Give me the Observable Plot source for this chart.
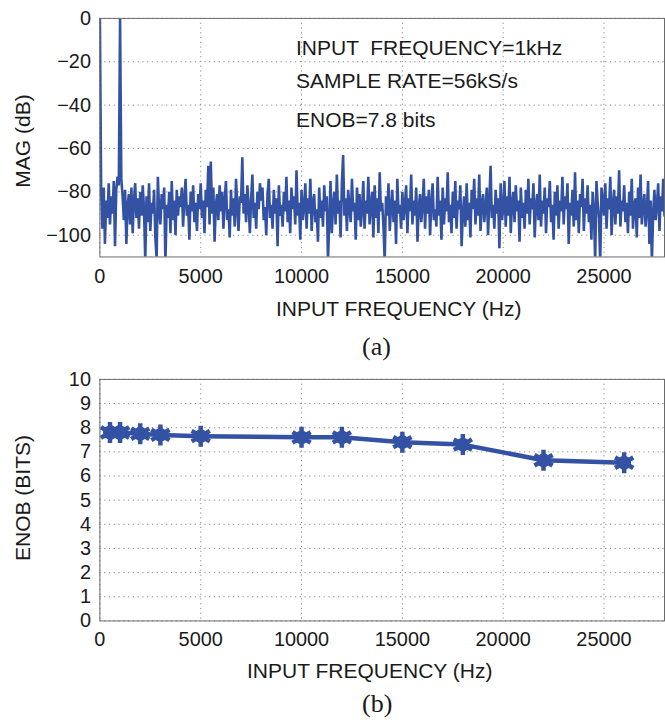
<!DOCTYPE html>
<html><head><meta charset="utf-8">
<script src="https://cdn.jsdelivr.net/npm/d3@7"></script>
<script src="https://cdn.jsdelivr.net/npm/@observablehq/plot@0.6"></script>
<style>
html,body{margin:0;padding:0;background:#fff;overflow:hidden;}
#wrap{position:relative;width:665px;height:725px;overflow:hidden;font-family:"Liberation Sans",Arial,sans-serif;color:#1a1a1a;}
#wrap svg{position:absolute;left:0;}
.lbl{position:absolute;font-size:21px;line-height:21px;white-space:pre;}
.rot{transform:translate(-50%,-50%) rotate(-90deg);}
.cap{position:absolute;font-family:"Liberation Serif","DejaVu Serif",serif;font-size:26px;line-height:26px;}
</style></head><body><div id="wrap"></div>
<script>
// FFT bin spacing of the spectrum (Hz)
const binHz = 62.5;
// Spectrum magnitude (dB), one value per bin from 0 Hz to 28 kHz
const magDb = [
0,-80,-97,-78,-104,-84,-92,-76,-95,-82,-90,-75,-105,-79,-73,-77,
0,-74,-82,-93,-79,-104,-86,-81,-95,-78,-99,-84,-76,-92,-83,-97,
-80,-91,-77,-88,-112,-82,-94,-76,-98,-85,-90,-79,-101,-111,-73,-89,
-95,-81,-88,-78,-113,-86,-92,-80,-99,-75,-93,-84,-100,-79,-91,-82,
-87,-78,-96,-83,-74,-91,-86,-102,-80,-89,-77,-94,-85,-98,-81,-88,
-76,-92,-84,-99,-79,-87,-68,-95,-66,-90,-78,-103,-86,-81,-93,-77,
-89,-80,-97,-84,-75,-93,-88,-101,-79,-91,-83,-96,-74,-87,-98,-82,
-85,-64,-90,-81,-94,-77,-86,-99,-83,-72,-92,-85,-97,-80,-88,-76,
-84,-78,-93,-87,-100,-81,-74,-92,-86,-97,-79,-90,-83,-105,-77,-91,
-86,-96,-80,-89,-73,-94,-84,-99,-78,-88,-82,-95,-70,-91,-85,-102,
-79,-93,-87,-76,-97,-83,-90,-74,-98,-85,-81,-94,-88,-103,-78,-92,
-84,-96,-77,-89,-82,-112,-93,-75,-99,-86,-80,-95,-72,-90,-84,-101,
-76,-63,-91,-83,-98,-79,-87,-94,-74,-89,-85,-102,-78,-93,-81,-96,
-88,-75,-97,-84,-90,-73,-95,-86,-80,-101,-77,-92,-83,-99,-71,-89,
-85,-96,-112,-82,-91,-76,-98,-87,-79,-94,-84,-104,-74,-90,-86,-97,
-80,-93,-86,-77,-99,-83,-89,-72,-95,-84,-91,-78,-103,-87,-81,-94,
-86,-74,-97,-82,-90,-79,-100,-85,-76,-93,-88,-96,-73,-91,-84,-102,
-78,-95,-83,-89,-71,-94,-86,-99,-80,-92,-75,-97,-84,-88,-77,-105,
-90,-82,-96,-76,-93,-85,-101,-79,-88,-74,-95,-83,-91,-72,-98,-86,
-81,-94,-87,-78,-100,-84,-68,-92,-86,-97,-79,-90,-83,-106,-76,-93,
-88,-75,-96,-82,-91,-73,-99,-85,-80,-94,-77,-89,-84,-103,-78,-92,
-85,-97,-79,-90,-74,-95,-83,-88,-76,-101,-86,-81,-93,-72,-96,-84,
-90,-78,-99,-83,-87,-75,-94,-86,-102,-80,-91,-77,-97,-84,-89,-73,
-95,-82,-88,-76,-104,-85,-91,-79,-96,-71,-93,-84,-99,-81,-87,-74,
-98,-83,-90,-77,-94,-86,-102,-80,-89,-112,-75,-85,-92,-113,-78,-84,
-91,-76,-97,-83,-88,-73,-100,-86,-79,-95,-82,-90,-70,-96,-84,-89,
-77,-94,-85,-99,-80,-91,-74,-97,-86,-83,-101,-78,-92,-72,-95,-87,
-81,-96,-88,-75,-104,-84,-112,-90,-79,-93,-86,-76,-98,-82,-89,-74,
-91
];
// ENOB vs input frequency
const enobFreq = [500, 1000, 2000, 3000, 5000, 10000, 12000, 15000, 18000, 22000, 26000];
const enobBits = [7.8, 7.8, 7.75, 7.7, 7.65, 7.6, 7.6, 7.4, 7.3, 6.65, 6.55];
// Ticks
const freqTicks = [0, 5000, 10000, 15000, 20000, 25000];
const magTicks = [0, -20, -40, -60, -80, -100];
const enobTicks = [0, 1, 2, 3, 4, 5, 6, 7, 8, 9, 10];
// Texts
const annotLines = ["INPUT  FREQUENCY=1kHz", "SAMPLE RATE=56kS/s", "ENOB=7.8 bits"];
const xLabel = "INPUT FREQUENCY (Hz)";
const yLabelTop = "MAG (dB)";
const yLabelBottom = "ENOB (BITS)";
const captions = ["(a)", "(b)"];

const blue = "#3452a4";
const gridStyle = {stroke: "#8a8a8a", strokeOpacity: 1, strokeWidth: 1, strokeDasharray: "1.2,3.6"};
const baseStyle = {fontFamily: "'Liberation Sans', Arial, sans-serif", fontSize: "20px", color: "#1a1a1a", background: "transparent", overflow: "visible"};

const spectrum = magDb.map((m, i) => ({f: i * binHz, m}));
const enob = enobFreq.map((f, i) => ({f, b: enobBits[i]}));

const wrap = document.getElementById("wrap");

const topPlot = Plot.plot({
  width: 669, height: 300,
  marginLeft: 100, marginRight: 1, marginTop: 18, marginBottom: 42,
  style: baseStyle,
  x: {domain: [0, 28000], ticks: freqTicks, tickSize: 0, tickPadding: 12, label: null, tickFormat: d3.format("d")},
  y: {domain: [-110, 0], ticks: magTicks, tickSize: 0, tickPadding: 9, label: null},
  marks: [
    Plot.gridX(freqTicks, gridStyle),
    Plot.gridY(magTicks, gridStyle),
    Plot.line(spectrum, {x: "f", y: "m", stroke: blue, strokeWidth: 2.6, strokeLinejoin: "miter", clip: true}),
    Plot.frame({stroke: "#6a6a6a", strokeWidth: 1})
  ]
});
topPlot.style.top = "0px";
wrap.appendChild(topPlot);

const botPlot = Plot.plot({
  width: 669, height: 300,
  marginLeft: 100, marginRight: 1, marginTop: 19, marginBottom: 38,
  style: baseStyle,
  x: {domain: [0, 28000], ticks: freqTicks, tickSize: 0, tickPadding: 11, label: null, tickFormat: d3.format("d")},
  y: {domain: [0, 10], ticks: enobTicks, tickSize: 0, tickPadding: 9, label: null},
  marks: [
    Plot.gridX(freqTicks, gridStyle),
    Plot.gridY(enobTicks, gridStyle),
    Plot.line(enob, {x: "f", y: "b", stroke: blue, strokeWidth: 4.5}),
    Plot.dot(enob, {x: "f", y: "b", fill: blue, r: 7}),
    Plot.dot(enob, {x: "f", y: "b", symbol: "asterisk", stroke: blue, strokeWidth: 4.5, r: 10}),
    Plot.frame({stroke: "#6a6a6a", strokeWidth: 1})
  ]
});
botPlot.style.top = "360px";
wrap.appendChild(botPlot);

function addDiv(cls, text, css) {
  const d = document.createElement("div");
  d.className = cls;
  d.textContent = text;
  Object.assign(d.style, css);
  wrap.appendChild(d);
  return d;
}
// annotation block
const annotTops = ["37px", "70px", "109px"];
annotLines.forEach((t, i) => addDiv("lbl", t, {left: "296px", top: annotTops[i]}));
// axis labels
addDiv("lbl", xLabel, {left: "276px", top: "298px"});
addDiv("lbl", xLabel, {left: "247px", top: "660px"});
addDiv("lbl rot", yLabelTop, {left: "22px", top: "141px"});
addDiv("lbl rot", yLabelBottom, {left: "22px", top: "498px"});
// captions
addDiv("cap", captions[0], {left: "362px", top: "334px"});
addDiv("cap", captions[1], {left: "362px", top: "691px"});
</script>
</body></html>
